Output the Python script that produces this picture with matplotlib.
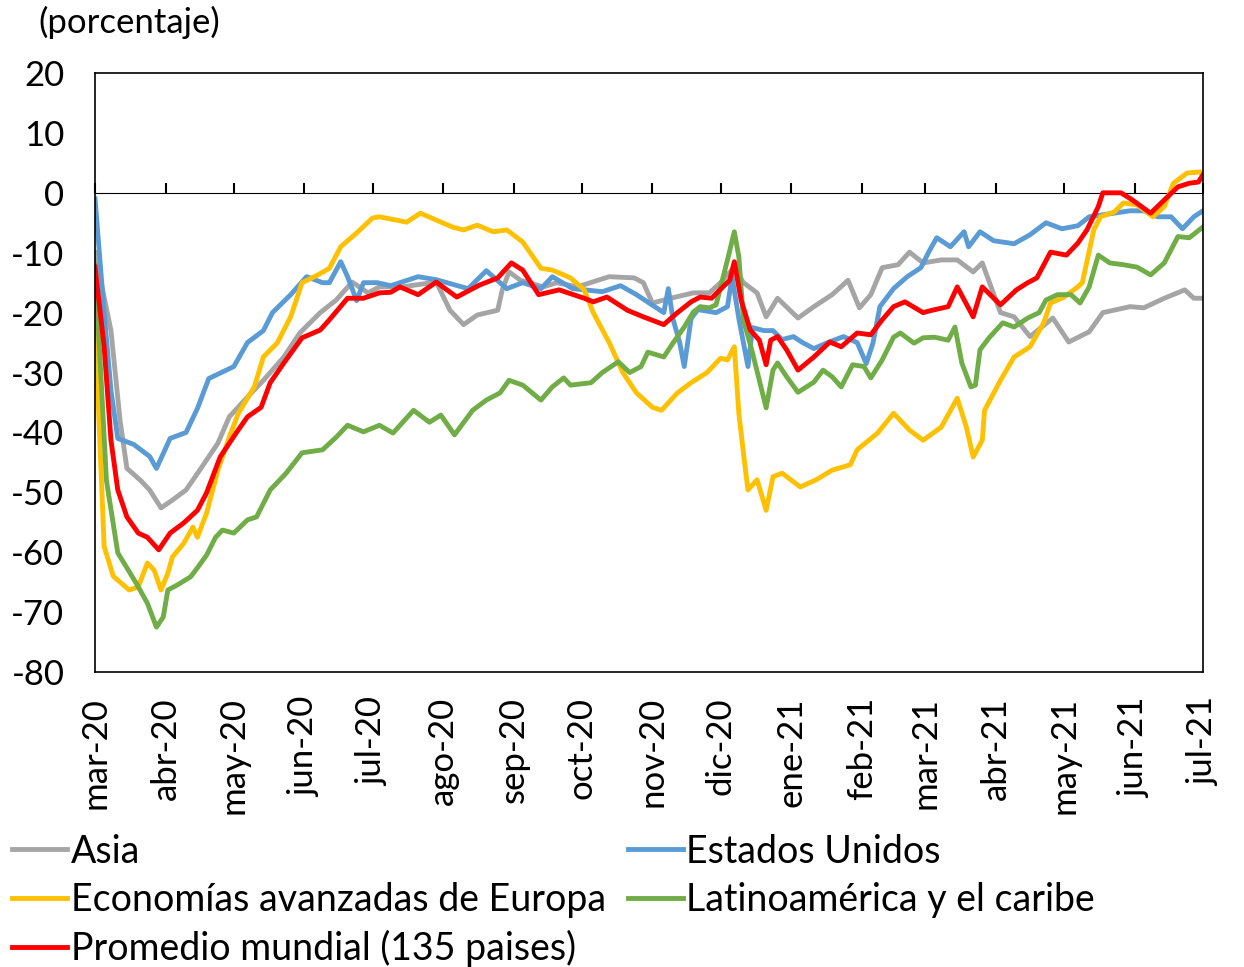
import numpy as np
import pandas as pd
import matplotlib
matplotlib.use("Agg")
import matplotlib.pyplot as plt
import matplotlib.dates as mdates

plt.rcParams['font.family'] = ['Lato', 'DejaVu Sans']
plt.rcParams['axes.unicode_minus'] = False

inicio = pd.Timestamp('2020-03-01')          # dia 0 del eje

# valores: (dias desde 1-mar-2020, porcentaje)
asia_dia = [0, 7, 11, 14, 20, 24, 29, 34, 40, 46, 54, 59, 67, 74, 83, 90, 99, 106, 113, 120, 125, 135,
            150, 156, 162, 168, 177, 179, 182, 187, 197, 203, 212, 221, 226, 237, 241, 245, 253, 263,
            270, 275, 281, 285, 291, 295, 300, 309, 316, 324, 331, 336, 341, 346, 353, 358, 364, 372,
            379, 386, 390, 398, 404, 411, 421, 428, 437, 443, 455, 461, 470, 479, 483, 487]
asia = [-10, -23, -38, -46, -48, -49.6, -52.6, -51.3, -49.6, -46.3, -41.8, -37.4, -34.1, -31.3, -27.4,
        -23.4, -20, -17.9, -14.9, -16.7, -15.7, -15.7, -14.9, -19.6, -22, -20.4, -19.6, -16.2, -13.2,
        -14.6, -15.7, -15, -15.7, -14.6, -14, -14.2, -15, -18.4, -17.6, -16.7, -16.7, -15, -12.4, -15,
        -16.7, -20.7, -17.6, -20.9, -19, -17, -14.6, -19.2, -17, -12.5, -12, -9.9, -11.7, -11.2, -11.2,
        -13.2, -11.7, -20, -20.7, -24, -20.9, -24.9, -23.2, -20, -19, -19.2, -17.6, -16.2, -17.6, -17.6]

eeuu_dia = [0, 4, 7, 10, 17, 24, 27, 33, 40, 45, 50, 61, 67, 74, 78, 86, 93, 100, 103, 108, 111, 115,
            118, 124, 130, 142, 150, 164, 172, 181, 188, 196, 201, 210, 223, 231, 238, 244, 250, 252,
            254, 257, 259, 262, 265, 273, 278, 280, 283, 287, 289, 294, 298, 302, 307, 311, 316, 322,
            329, 335, 339, 342, 345, 351, 357, 363, 367, 370, 376, 382, 384, 389, 395, 404, 411, 418,
            425, 432, 437, 446, 455, 461, 467, 473, 478, 483, 487]
eeuu = [-1, -20, -33, -41, -42, -44, -46, -41, -40, -36, -31, -29, -25, -23, -20, -17, -14, -15, -15,
        -11.5, -14, -18, -15, -15, -15.5, -14, -14.5, -16, -13, -16, -15, -16, -14, -16, -16.5, -15.5,
        -17, -18.5, -20, -16, -21, -25, -29, -21, -19.5, -20, -19, -14, -21, -29, -22.5, -23, -23,
        -24.5, -24, -25, -26, -25, -24, -25, -28.5, -25, -19, -16, -14, -12.5, -9.5, -7.5, -9, -6.5,
        -9, -6.5, -8, -8.5, -7, -5, -6, -5.5, -4, -3.5, -3, -3, -4, -4, -6, -4, -3]

europa_dia = [0, 4, 8, 15, 19, 23, 26, 29, 32, 34, 39, 43, 45, 49, 54, 59, 63, 70, 74, 80, 86, 91, 98,
              103, 108, 115, 122, 125, 137, 143, 157, 162, 168, 175, 181, 188, 196, 201, 209, 215, 219,
              226, 232, 238, 245, 249, 256, 262, 269, 275, 278, 281, 283, 285, 287, 291, 295, 298, 302,
              310, 317, 324, 332, 335, 344, 351, 358, 364, 372, 379, 383, 386, 390, 391, 398, 404, 411,
              417, 420, 426, 432, 434, 439, 442, 448, 452, 458, 465, 470, 474, 480, 486, 487]
europa = [-22, -59, -64, -66.3, -65.8, -61.8, -63, -66.3, -63.5, -60.8, -58.5, -55.8, -57.5, -53.5,
          -46.3, -40.8, -36.8, -32.4, -27.4, -25.1, -20.7, -15, -13.7, -12.6, -9, -6.7, -4.2, -4, -4.9,
          -3.4, -5.7, -6.2, -5.4, -6.5, -6.2, -8.2, -12.6, -12.9, -14.2, -16.2, -20, -25, -30, -33.4,
          -35.8, -36.3, -33.4, -31.7, -30, -27.6, -27.9, -25.7, -36.8, -43.4, -49.6, -47.9, -53, -47.4,
          -46.8, -49.1, -47.9, -46.3, -45.4, -42.9, -40.1, -36.8, -39.6, -41.3, -39.1, -34.3, -39.1,
          -44.1, -41.3, -36.3, -31.3, -27.4, -25.7, -21.7, -18.4, -17.4, -15.7, -15, -6.2, -4, -3.2,
          -1.7, -2, -4, -2.3, 1.6, 3.3, 3.5, 2.7]

latam_dia = [0, 5, 10, 14, 18, 23, 27, 30, 32, 36, 42, 45, 49, 53, 56, 61, 67, 71, 77, 84, 91, 100, 106,
             111, 118, 125, 131, 140, 147, 152, 158, 166, 172, 178, 182, 188, 196, 201, 206, 209, 218,
             223, 230, 235, 240, 243, 250, 254, 259, 263, 266, 270, 273, 278, 281, 283, 285, 289, 292,
             295, 298, 300, 304, 309, 316, 320, 324, 328, 333, 338, 341, 346, 351, 354, 360, 364, 369,
             375, 378, 381, 385, 387, 389, 393, 399, 404, 410, 415, 418, 423, 429, 433, 437, 441, 446,
             452, 458, 464, 470, 476, 481, 487]
latam = [-12, -48, -60.1, -62.6, -65.1, -68.5, -72.5, -70.8, -66.3, -65.5, -64.1, -62.6, -60.5, -57.5,
         -56.3, -56.8, -54.6, -54.1, -49.6, -46.8, -43.4, -42.9, -40.8, -38.8, -39.9, -38.8, -40.1,
         -36.3, -38.3, -37.1, -40.4, -36.3, -34.6, -33.4, -31.3, -32.1, -34.6, -32.4, -30.9, -32.1,
         -31.7, -30, -28.2, -30, -29, -26.6, -27.4, -25.1, -22.4, -19.9, -19, -19.2, -18.7, -11.2, -6.5,
         -10.7, -21.2, -26.7, -31.3, -35.9, -29.6, -28.4, -30.7, -33.3, -31.6, -29.6, -30.7, -32.4,
         -28.7, -29, -30.9, -27.9, -24.1, -23.4, -25.1, -24.2, -24.1, -24.6, -22.4, -28.4, -32.4, -32.1,
         -26.2, -24.2, -21.7, -22.4, -20.9, -20, -17.9, -17, -17, -18.4, -15.7, -10.4, -11.7, -12,
         -12.4, -13.7, -11.7, -7.3, -7.5, -5.7]

mundo_dia = [0, 4, 7, 10, 14, 19, 23, 28, 33, 39, 45, 49, 55, 62, 67, 73, 77, 83, 91, 99, 103, 111, 118,
             125, 130, 134, 142, 150, 159, 169, 177, 183, 188, 195, 204, 215, 219, 225, 234, 241, 250,
             256, 262, 266, 271, 276, 279, 281, 284, 288, 292, 295, 297, 300, 304, 309, 316, 323, 328,
             335, 341, 346, 351, 356, 364, 368, 375, 379, 386, 390, 398, 405, 410, 414, 420, 427, 432,
             436, 441, 443, 451, 456, 464, 470, 476, 481, 485, 487]
mundo = [-12.4, -25.7, -41.3, -49.6, -54.1, -56.8, -57.5, -59.6, -56.8, -55.1, -53, -50.1, -44.1, -40.1,
         -37.4, -35.8, -31.7, -28.4, -24.2, -22.9, -21.2, -17.6, -17.6, -16.7, -16.6, -15.7, -17, -14.9,
         -17.4, -15.4, -14.2, -11.7, -12.9, -17, -16.2, -17.6, -18.2, -17.4, -19.6, -20.7, -22, -20,
         -18.2, -17.4, -17.6, -15.7, -14.6, -11.5, -17.9, -22.9, -24.6, -28.7, -24.6, -24, -26.2, -29.6,
         -27.4, -24.9, -25.7, -23.4, -23.7, -21.2, -19, -18.2, -20, -19.6, -19, -15.7, -20.7, -15.7,
         -18.7, -16.2, -15, -14.2, -9.9, -10.4, -8.4, -6.2, -2.3, 0, 0, -1.2, -3.4, -1.2, 1, 1.6, 1.8, 3]

series = [
    ('Asia', asia_dia, asia, '#A5A5A5'),
    ('Estados Unidos', eeuu_dia, eeuu, '#5B9BD5'),
    ('Economías avanzadas de Europa', europa_dia, europa, '#FFC000'),
    ('Latinoamérica y el caribe', latam_dia, latam, '#70AD47'),
    ('Promedio mundial (135 paises)', mundo_dia, mundo, '#FF0000'),
]

meses = ['mar-20', 'abr-20', 'may-20', 'jun-20', 'jul-20', 'ago-20', 'sep-20', 'oct-20', 'nov-20',
         'dic-20', 'ene-21', 'feb-21', 'mar-21', 'abr-21', 'may-21', 'jun-21', 'jul-21']

fig = plt.figure(figsize=(12.44, 9.67), dpi=100)
ax = fig.add_axes([0.0764, 0.305, 0.8906, 0.6195])

lineas = {}
for nombre, dia, val, color in series:
    fechas = inicio + pd.to_timedelta(dia, unit='D')
    ln, = ax.plot(fechas, val, color=color, lw=3.5, solid_joinstyle='round', label=nombre)
    lineas[nombre] = ln

ymin, ymax = -80, 20
ax.set_ylim(ymin, ymax)
ax.set_yticks(np.arange(ymin, ymax + 1, 10))
fechas_mes = pd.date_range(inicio, periods=len(meses), freq='MS')
ax.set_xlim(fechas_mes[0], fechas_mes[-1])
ax.set_xticks(fechas_mes)
ax.set_xticklabels(meses, rotation=90)
ax.tick_params(axis='both', length=0, labelsize=25)
ax.tick_params(axis='y', pad=22)
ax.tick_params(axis='x', pad=18)
for s in ax.spines.values():
    s.set_linewidth(1.2)

# eje en cero con marcas de mes
eje0 = ax.secondary_xaxis((0 - ymin) / (ymax - ymin))
eje0.set_xticks(mdates.date2num(fechas_mes))
eje0.set_xticklabels([])
eje0.tick_params(direction='out', length=7, width=1.5, color='black')
eje0.spines['bottom'].set_linewidth(1.5)

fig.text(38 / 1244, 1 - 22 / 967, '(porcentaje)', fontsize=25, va='center', ha='left')

orden = ['Asia', 'Economías avanzadas de Europa', 'Promedio mundial (135 paises)',
         'Estados Unidos', 'Latinoamérica y el caribe']
fig.legend([lineas[n] for n in orden], orden, ncol=2, loc='upper left',
           bbox_to_anchor=(0.01, 0.138), frameon=False, fontsize=27,
           handlelength=1.45, handletextpad=0.1, columnspacing=0.6, labelspacing=0.33,
           borderaxespad=0, borderpad=0)

fig.savefig('out.png', dpi=100)
